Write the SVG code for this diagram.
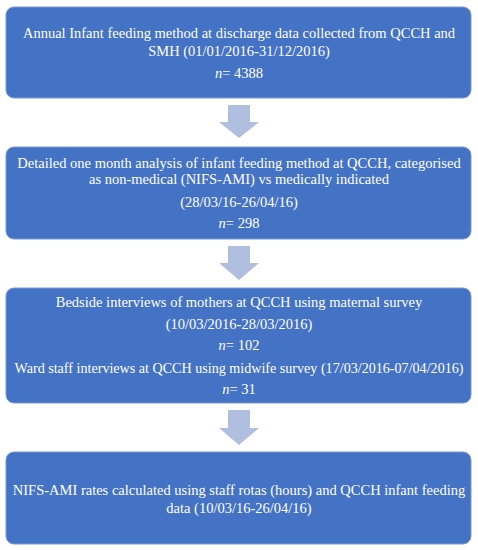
<svg xmlns="http://www.w3.org/2000/svg" width="478" height="550" viewBox="0 0 478 550">
<style>
.box{fill:#4472C4;stroke:#7a98d4;stroke-width:1}
.arr{fill:#B0BEE0}
text{font-family:"Liberation Serif","DejaVu Serif",serif;font-size:14.5px;fill:#ffffff;text-anchor:middle}
</style>
<g id="connectors">
<polygon class="arr" points="228,105 250,105 250,122 259,122 239,138 219,122 228,122"/>
<polygon class="arr" points="228,246 250,246 250,263 259,263 239,280 219,263 228,263"/>
<polygon class="arr" points="228,410 250,410 250,428 259,428 239,445 219,428 228,428"/>
</g>
<g id="node1">
<rect class="box" x="6" y="7" width="465" height="91" rx="8"/>
<text x="239" y="38">Annual Infant feeding method at discharge data collected from QCCH and</text>
<text x="239" y="56">SMH (01/01/2016-31/12/2016)</text>
<text x="239" y="78"><tspan font-style="italic">n</tspan>= 4388</text>
</g>
<g id="node2">
<rect class="box" x="6" y="147" width="465" height="92" rx="8"/>
<text x="239" y="168">Detailed one month analysis of infant feeding method at QCCH, categorised</text>
<text x="239" y="184">as non-medical (NIFS-AMI) vs medically indicated</text>
<text x="239" y="207">(28/03/16-26/04/16)</text>
<text x="239" y="228"><tspan font-style="italic">n</tspan>= 298</text>
</g>
<g id="node3">
<rect class="box" x="6" y="288" width="465" height="115" rx="8"/>
<text x="239" y="307">Bedside interviews of mothers at QCCH using maternal survey</text>
<text x="239" y="329">(10/03/2016-28/03/2016)</text>
<text x="239" y="350"><tspan font-style="italic">n</tspan>= 102</text>
<text x="239" y="373" textLength="449" lengthAdjust="spacingAndGlyphs">Ward staff interviews at QCCH using midwife survey (17/03/2016-07/04/2016)</text>
<text x="239" y="394"><tspan font-style="italic">n</tspan>= 31</text>
</g>
<g id="node4">
<rect class="box" x="6" y="452" width="465" height="92" rx="8"/>
<text x="239" y="495">NIFS-AMI rates calculated using staff rotas (hours) and QCCH infant feeding</text>
<text x="239" y="513">data (10/03/16-26/04/16)</text>
</g>
</svg>
